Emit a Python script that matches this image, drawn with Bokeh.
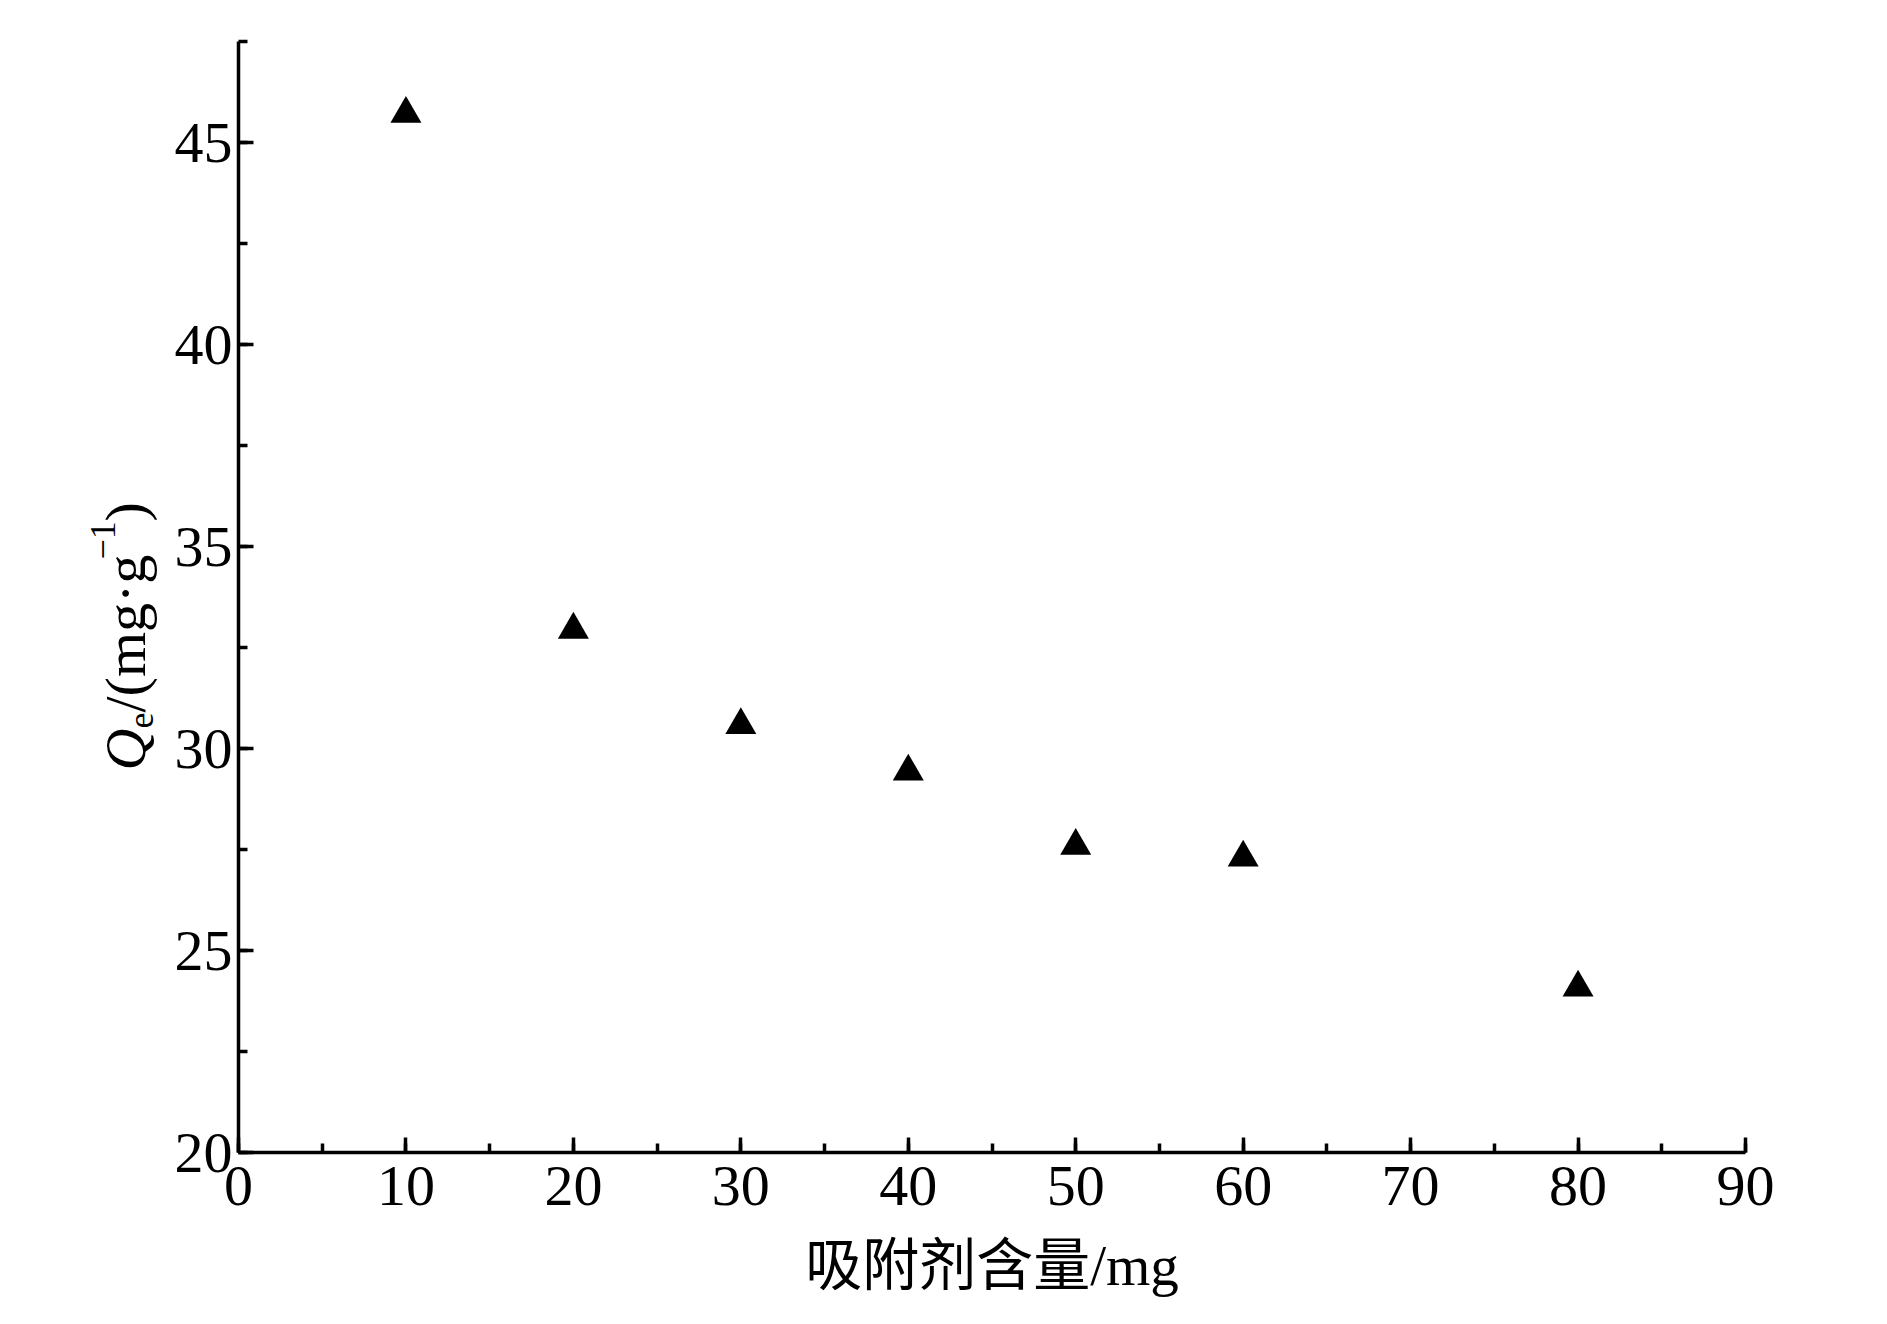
import math
from bokeh.plotting import figure
from bokeh.models import ColumnDataSource, SingleIntervalTicker, Range1d
from bokeh.core.properties import value
from bokeh.embed import file_html
from bokeh.resources import INLINE

# ---- data ----
adsorbent_mg = [10, 20, 30, 40, 50, 60, 80]
qe_mg_per_g = [45.71, 32.94, 30.58, 29.43, 27.59, 27.30, 24.08]
x_label = "吸附剂含量/mg"
y_label_parts = ["Q", "e", "/(mg·g", "−1", ")"]
x_min, x_max = 0, 90
y_min, y_max = 20, 47.5

SERIF = "Liberation Serif"
CJK = "Liberation Serif, Noto Sans CJK SC, serif"

# ---- layout constants (canvas pixels) ----
W, H = 1870, 1308
AX_L, AX_R = 238, 1745     # pixel x of x_min / x_max
AX_B, AX_T = 1152, 41      # pixel y of y_min / y_max
px_x = (AX_R - AX_L) / (x_max - x_min)
px_y = (AX_B - AX_T) / (y_max - y_min)

def dx(cx):
    return x_min + (cx - AX_L) / px_x

def dy(cy):
    return y_min + (AX_B - cy) / px_y

p = figure(width=W, height=H, output_backend="svg", toolbar_location=None,
           title=None,
           x_range=Range1d(dx(0), dx(W)), y_range=Range1d(dy(H), dy(0)),
           min_border=0, min_border_left=0, min_border_right=0,
           min_border_top=0, min_border_bottom=0)
p.outline_line_color = None
p.xgrid.visible = False
p.ygrid.visible = False
p.background_fill_color = "white"
p.border_fill_color = "white"

src = ColumnDataSource(dict(x=adsorbent_mg, y=qe_mg_per_g))
p.scatter("x", "y", source=src, marker="triangle", size=31,
          fill_color="black", line_color=None)

p.xaxis.ticker = SingleIntervalTicker(interval=10, num_minor_ticks=2)
p.yaxis.ticker = SingleIntervalTicker(interval=5, num_minor_ticks=2)
p.xaxis.fixed_location = y_min
p.yaxis.fixed_location = x_min
p.xaxis.bounds = (x_min, x_max)
p.yaxis.bounds = (y_min, y_max)

for ax in (p.xaxis[0], p.yaxis[0]):
    ax.axis_line_width = 3.5
    ax.axis_line_color = "black"
    ax.major_tick_line_width = 3.5
    ax.minor_tick_line_width = 3.5
    ax.major_tick_line_color = "black"
    ax.minor_tick_line_color = "black"
    ax.major_tick_in = 15
    ax.major_tick_out = 0
    ax.minor_tick_in = 9
    ax.minor_tick_out = 0
    ax.major_label_text_font = SERIF
    ax.major_label_text_font_size = "58px"
    ax.major_label_text_color = "black"

p.xaxis.major_label_standoff = 14
p.yaxis.major_label_standoff = 6

p.xaxis.axis_label = x_label
p.xaxis.axis_label_text_font = CJK
p.xaxis.axis_label_text_font_size = "57px"
p.xaxis.axis_label_text_font_style = "normal"
p.xaxis.axis_label_text_color = "black"
p.xaxis.axis_label_standoff = 26
p.yaxis.axis_label = None

# ---- rotated y-axis title Q_e/(mg·g^-1), assembled from pieces ----
ang = math.pi / 2
layout_spec = [  # (canvas x of baseline, canvas y of start, size, style)
    (125, 770, "58px", "italic"),
    (140, 728, "36px", "normal"),
    (125, 712, "58px", "normal"),
    (102, 559, "36px", "normal"),
    (125, 521, "58px", "normal"),
]
for txt, (bx, by, fs, st) in zip(y_label_parts, layout_spec):
    p.text(x=[dx(bx)], y=[dy(by)], text=[txt], angle=ang,
           text_font=value(SERIF), text_font_size=value(fs),
           text_font_style=value(st), text_color="black",
           text_align="left", text_baseline="alphabetic")

open("out.html", "w").write(file_html(p, INLINE))
